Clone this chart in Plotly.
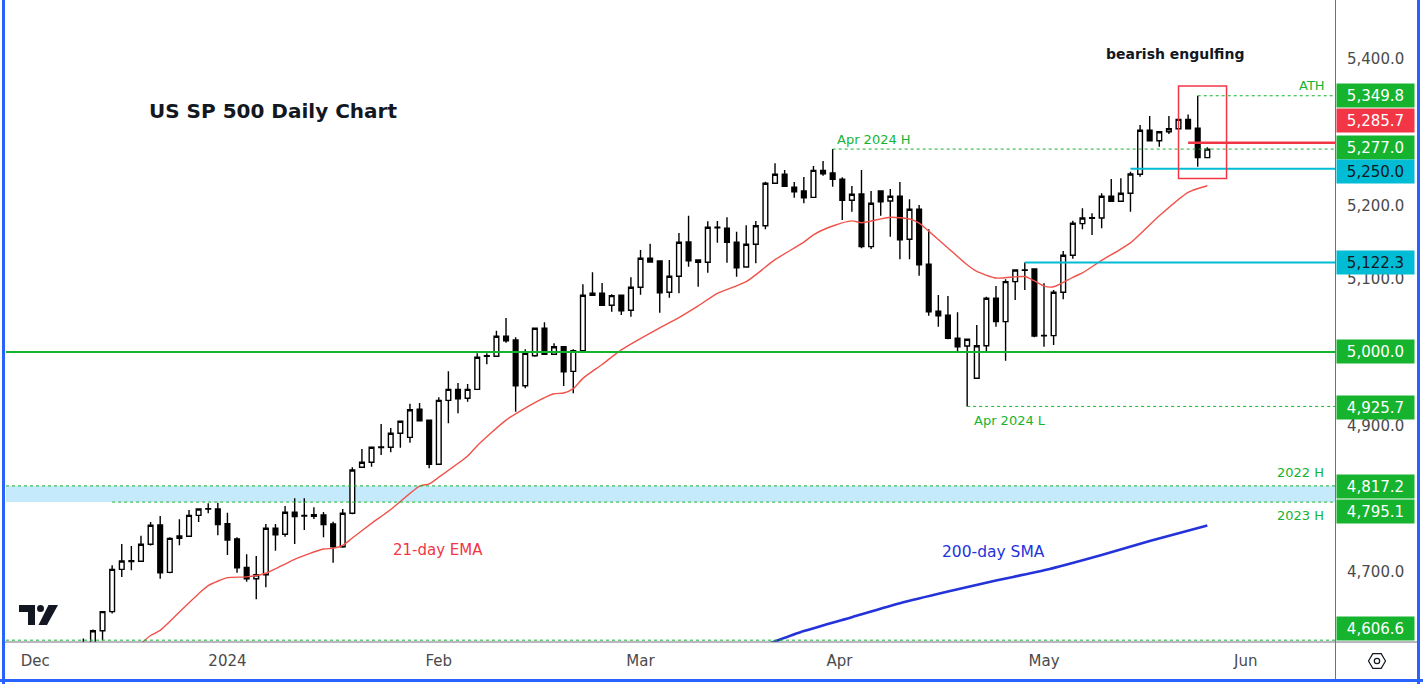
import plotly.graph_objects as go

# ---------------- data (daily bars, 8 Dec 2023 -> 24 May 2024) ----------------
opens = [4600, 4600, 4619.5, 4645.5, 4703.3, 4714, 4714.3, 4737.5, 4763.8, 4699.2,
         4745.6, 4748.4, 4777, 4785.5, 4785.7, 4765.6, 4744.7, 4706, 4690.5, 4696,
         4759.3, 4751.1, 4781.2, 4776, 4777.9, 4777.5, 4765.2, 4734.2, 4779.8, 4842.6,
         4849.4, 4869.5, 4869.9, 4889, 4883.5, 4921.8, 4906.8, 4846.7, 4934, 4949,
         4936.8, 4949, 4994, 4994.1, 5021.4, 5016.4, 4954, 4994.9, 5032.4, 4996.9,
         5007.2, 4973.6, 5001.8, 5077.4, 5080.2, 5063.8, 5077.4, 5056.9, 5088.3, 5127.9,
         5124.2, 5081.5, 5103.4, 5150.2, 5125.6, 5122.5, 5169.5, 5168.9, 5149.8, 5116,
         5147.1, 5172.4, 5230.3, 5242.6, 5224.8, 5219.8, 5211.1, 5247.9, 5244.4, 5235.8,
         5207.1, 5215.7, 5143.8, 5219.8, 5206.1, 5212.6, 5153.9, 5194.8, 5119.7, 5055.6,
         5050.1, 5018.7, 5008.2, 4964.1, 5008.6, 5073.3, 5041.4, 5096, 5111.5, 5113.3,
         5022, 5022.3, 5081.5, 5132, 5175.2, 5182.6, 5182.9, 5212.6, 5205.7, 5216.7,
         5242.6, 5302.7, 5288.4, 5300.7, 5304.8, 5317.6, 5305.4, 5265.3]
highs = [4609, 4621, 4646, 4709, 4738, 4735, 4749, 4768, 4776, 4747,
         4771.6, 4784.3, 4785.7, 4793.4, 4794.2, 4780.6, 4747, 4724, 4721.5, 4765.2,
         4765.2, 4789.8, 4800.3, 4800.3, 4788, 4781.6, 4768.3, 4785.7, 4842.6, 4867.6,
         4869.9, 4901.7, 4896.2, 4905.4, 4929.4, 4930.4, 4906.8, 4938.2, 4973.6, 4957.7,
         4956.3, 4998.2, 4998.2, 5029.1, 5046.4, 5020, 5003.7, 5032.4, 5040.5, 5011.9,
         5007.2, 5003.7, 5092.4, 5108.8, 5094.2, 5078.8, 5077.4, 5102, 5139.2, 5147.9,
         5124.2, 5125.6, 5162.5, 5186.1, 5125.6, 5178.4, 5178.8, 5183.9, 5164.2, 5173,
         5178.8, 5232.5, 5257.6, 5248.5, 5232, 5238.9, 5253.9, 5260.8, 5277.0, 5238.5,
         5226.6, 5248.5, 5219.8, 5219.8, 5222.5, 5232, 5208.5, 5200.7, 5167.5, 5077.8,
         5076.5, 5054.2, 5017.3, 5036.9, 5075.5, 5090.1, 5099.2, 5111.9, 5122.3, 5113.3,
         5093.8, 5084.6, 5137.9, 5179.2, 5196.2, 5189.4, 5216.7, 5236.2, 5237.1, 5246.1,
         5309.9, 5322.2, 5300.7, 5322.2, 5317.6, 5324.3, 5349.8, 5279.5]
lows = [4574, 4594, 4606, 4643, 4693, 4702, 4714, 4736, 4690.5, 4698,
        4736.2, 4748, 4768, 4779.8, 4749.8, 4722.9, 4698.7, 4686.4, 4662.4, 4678.8,
        4728.7, 4747.9, 4737.9, 4757, 4772, 4747, 4712.4, 4732.8, 4778.4, 4842.6,
        4843.4, 4859.4, 4863, 4869.4, 4876.2, 4906.2, 4841.2, 4846.7, 4902.7, 4916.3,
        4932.2, 4949, 4983.2, 4994.1, 5012.7, 4918.5, 4950.4, 4993.6, 4996.9, 4996.9,
        4953.6, 4943.6, 5001.8, 5077.4, 5063.8, 5055, 5050.5, 5048.2, 5078.2, 5122.9,
        5053.6, 5074.1, 5080.2, 5116.5, 5089.1, 5108.3, 5149.2, 5121.9, 5102.8, 5116,
        5121.1, 5167.5, 5230.3, 5226.2, 5210.6, 5203, 5211.1, 5240.6, 5225.7, 5180.2,
        5191.5, 5141.6, 5140.6, 5186.1, 5157.4, 5126.6, 5126.6, 5104.2, 5049.5, 5034.5,
        5017.3, 4999, 4925.7, 4964.1, 5000.4, 5034.5, 4988.1, 5071, 5084.6, 5020.1,
        5007.2, 5009.6, 5071.9, 5127.4, 5167.5, 5159.7, 5168.9, 5205.7, 5205.7, 5191.5,
        5239.3, 5288.4, 5280.2, 5297.6, 5304.8, 5304.8, 5253, 5265.3]
closes = [4601, 4619.5, 4645.5, 4703.3, 4714.7, 4715, 4737.5, 4763.4, 4698.7, 4745.6,
          4748.8, 4777, 4785.7, 4786, 4764.3, 4743.3, 4705.5, 4690.5, 4696, 4759.3,
          4750.6, 4781.2, 4775.2, 4777, 4775.7, 4764.3, 4734.2, 4779.8, 4839, 4849.4,
          4869.9, 4870.3, 4889, 4905.4, 4921.2, 4906.2, 4846.7, 4934, 4949, 4936.2,
          4949, 4992.8, 4995, 5021.4, 5015.4, 4954, 4998.2, 5032.4, 4996.9, 5007.2,
          4973.1, 5001.8, 5077.4, 5080.2, 5063.8, 5076.9, 5056.4, 5088.3, 5127.9, 5122.9,
          5080.9, 5103.4, 5149.8, 5124.6, 5122.5, 5170.2, 5170.2, 5149.8, 5115.1, 5147.1,
          5172.4, 5230.3, 5242.6, 5226.2, 5218.8, 5210.6, 5247.9, 5243.3, 5235.8, 5207.1,
          5215.3, 5143.8, 5203, 5205.2, 5212.6, 5153.3, 5194.8, 5119.2, 5055, 5049.5,
          5018.7, 5007.2, 5017.3, 5008.6, 5073.3, 5041.4, 5096, 5111.9, 5112, 5021.8,
          5022.6, 5081.5, 5132, 5175.7, 5182.9, 5183.2, 5212.6, 5205.7, 5216.7, 5243,
          5302.7, 5288.4, 5300.7, 5304.8, 5317.6, 5304.8, 5265.3, 5277.0]
bars = list(range(len(opens)))

# 21-day EMA (at bar positions)
ema_bars = [5, 7, 8, 10, 12, 13, 15, 17, 19, 20, 22, 25, 26, 27, 28, 30, 32, 35, 36, 37,
            40, 41, 44, 47, 49, 50, 51, 52, 54, 56, 60, 62, 64, 66, 69, 72, 75, 76, 78, 80,
            81, 84, 86, 87, 88, 90, 92, 93, 95, 98, 99, 100, 101, 103, 104, 106, 109, 112, 115, 117]
ema_vals = [4590, 4613, 4620, 4645, 4670, 4681, 4692, 4693, 4698, 4704, 4717, 4731, 4732, 4736, 4746,
            4766, 4785, 4817, 4820, 4829, 4858, 4872, 4907, 4931, 4943, 4944, 4950, 4964, 4983, 5003,
            5033, 5047, 5063, 5080, 5096, 5126, 5150, 5160, 5172, 5179, 5176.5, 5184, 5181.5, 5176, 5165,
            5142, 5119, 5110, 5101, 5103, 5097, 5090, 5089, 5102, 5108, 5125, 5149, 5186, 5218, 5227]

# 200-day SMA
sma_bars = [71, 75, 80, 85, 90, 95, 100, 106, 111, 117]
sma_vals = [4600, 4619, 4638, 4657, 4673, 4688, 4702, 4723, 4742, 4763]

month_ticks = [-5, 15, 37, 58, 78.7, 100, 121]
month_labels = ["Dec", "2024", "Feb", "Mar", "Apr", "May", "Jun"]
price_ticks = [4700, 4900, 5100, 5200, 5400]

lvl_5000 = 5000.0
lvl_2022h = 4817.2
lvl_2023h = 4795.1
lvl_apr_h = 5277.0
lvl_apr_l = 4925.7
lvl_ath = 5349.8
lvl_sup = 5250.0
lvl_res = 5122.3
lvl_red = 5285.7
lvl_low = 4606.6

# ---------------- layout geometry ----------------
W, H = 1423, 684
L, R, T, B = 6, 88, 8, 42
XR = [-8.05, 130.29]
YR = [4604.1, 5469.6]
PW, PH = W - L - R, H - T - B
FONT = "DejaVu Sans"


def px2x(px):
    return XR[0] + (px - L) / PW * (XR[1] - XR[0])


def py2y(py):
    return YR[1] - (py - T) / PH * (YR[1] - YR[0])


def ppx(px):  # pixel -> paper x
    return (px - L) / PW


def ppy(py):  # pixel -> paper y
    return (H - B - py) / PH


GREEN = "#16b32f"
RED = "#f23645"
CYAN = "#00bcd4"
BLUE = "#2433d9"

fig = go.Figure()

fig.add_trace(go.Candlestick(
    x=bars, open=opens, high=highs, low=lows, close=closes,
    increasing=dict(line=dict(color="#000000", width=1.4), fillcolor="#ffffff"),
    decreasing=dict(line=dict(color="#000000", width=1.4), fillcolor="#000000"),
    whiskerwidth=0, showlegend=False, hoverinfo="skip"))

fig.add_trace(go.Scatter(x=ema_bars, y=ema_vals, mode="lines",
                         line=dict(color="#f0524a", width=1.4, shape="spline", smoothing=0.6),
                         showlegend=False, hoverinfo="skip"))
fig.add_trace(go.Scatter(x=sma_bars, y=sma_vals, mode="lines",
                         line=dict(color=BLUE, width=2.6, shape="spline", smoothing=0.6),
                         showlegend=False, hoverinfo="skip"))

shapes = []
# 2022/2023 high zone
shapes.append(dict(type="rect", xref="paper", x0=0, x1=1, yref="y", y0=lvl_2023h, y1=lvl_2022h,
                   fillcolor="#c4eafc", line=dict(width=0), layer="below"))
shapes.append(dict(type="line", xref="paper", x0=0, x1=1, yref="y", y0=lvl_2022h, y1=lvl_2022h,
                   line=dict(color=GREEN, width=1, dash="dot")))
shapes.append(dict(type="line", xref="x", x0=3, x1=XR[1], yref="y", y0=lvl_2023h, y1=lvl_2023h,
                   line=dict(color=GREEN, width=1, dash="dot")))
shapes.append(dict(type="line", xref="paper", x0=0, x1=1, yref="y", y0=lvl_low, y1=lvl_low,
                   line=dict(color=GREEN, width=1, dash="dot")))
# 5000 level
shapes.append(dict(type="line", xref="paper", x0=0, x1=1, yref="y", y0=lvl_5000, y1=lvl_5000,
                   line=dict(color=GREEN, width=2)))
# dotted highs / lows
shapes.append(dict(type="line", xref="x", x0=78, x1=XR[1], yref="y", y0=lvl_apr_h, y1=lvl_apr_h,
                   line=dict(color=GREEN, width=1, dash="dot")))
shapes.append(dict(type="line", xref="x", x0=92, x1=XR[1], yref="y", y0=lvl_apr_l, y1=lvl_apr_l,
                   line=dict(color=GREEN, width=1, dash="dot")))
shapes.append(dict(type="line", xref="x", x0=116, x1=XR[1], yref="y", y0=lvl_ath, y1=lvl_ath,
                   line=dict(color=GREEN, width=1, dash="dot")))
# cyan levels
shapes.append(dict(type="line", xref="x", x0=109, x1=XR[1], yref="y", y0=lvl_sup, y1=lvl_sup,
                   line=dict(color=CYAN, width=2)))
shapes.append(dict(type="line", xref="x", x0=98, x1=XR[1], yref="y", y0=lvl_res, y1=lvl_res,
                   line=dict(color=CYAN, width=2)))
# red level
shapes.append(dict(type="line", xref="x", x0=115, x1=XR[1], yref="y", y0=lvl_red, y1=lvl_red,
                   line=dict(color=RED, width=2.5)))
# bearish engulfing box
shapes.append(dict(type="rect", xref="x", x0=114, x1=119, yref="y", y0=5237, y1=5363,
                   line=dict(color=RED, width=1.5), fillcolor="rgba(0,0,0,0)"))

# separators and frame
shapes.append(dict(type="line", xref="paper", yref="paper", x0=ppx(1335.5), x1=ppx(1335.5),
                   y0=ppy(0), y1=ppy(680), line=dict(color="#6f727c", width=1)))
shapes.append(dict(type="line", xref="paper", yref="paper", x0=ppx(5), x1=ppx(1418),
                   y0=ppy(642), y1=ppy(642), line=dict(color="#6f727c", width=1)))
for (a, b, c, d) in [(3.5, 0, 3.5, 684), (0, 680.5, 1423, 680.5), (1418.5, 0, 1418.5, 684)]:
    shapes.append(dict(type="line", xref="paper", yref="paper", x0=ppx(a), x1=ppx(c),
                       y0=ppy(b), y1=ppy(d), line=dict(color="#2962ff", width=3)))


def path(points):
    s = "M " + " L ".join(f"{ppx(x):.5f} {ppy(y):.5f}" for x, y in points) + " Z"
    return s


# TradingView-like logo
shapes.append(dict(type="path", xref="paper", yref="paper",
                   path=path([(19, 605), (35, 605), (35, 625), (28, 625), (28, 612), (19, 612)]),
                   fillcolor="#131722", line=dict(width=0)))
shapes.append(dict(type="circle", xref="paper", yref="paper", x0=ppx(37), x1=ppx(44),
                   y0=ppy(612), y1=ppy(605), fillcolor="#131722", line=dict(width=0)))
shapes.append(dict(type="path", xref="paper", yref="paper",
                   path=path([(48.5, 605), (58, 605), (47, 625), (38.5, 625)]),
                   fillcolor="#131722", line=dict(width=0)))
# settings icon
hexpts = [(1385.5, 661), (1381.2, 653.6), (1372.8, 653.6), (1368.5, 661), (1372.8, 668.4), (1381.2, 668.4)]
shapes.append(dict(type="path", xref="paper", yref="paper", path=path(hexpts),
                   line=dict(color="#131722", width=1.2), fillcolor="rgba(0,0,0,0)"))
shapes.append(dict(type="circle", xref="paper", yref="paper", x0=ppx(1374.3), x1=ppx(1379.7),
                   y0=ppy(663.7), y1=ppy(658.3), line=dict(color="#131722", width=1.2)))

annotations = []


def txt(text, px, py, size, color, anchor="left", bold=False):
    annotations.append(dict(text=(f"<b>{text}</b>" if bold else text), x=px2x(px), y=py2y(py),
                            xref="x", yref="y", showarrow=False, xanchor=anchor, yanchor="middle",
                            font=dict(size=size, color=color, family=FONT)))


txt("US SP 500 Daily Chart", 147, 111, 20, "#131722", bold=True)
txt("bearish engulfing", 1104, 54, 14, "#131722", bold=True)
txt("ATH", 1327, 85, 13, GREEN, anchor="right")
txt("Apr 2024 H", 835, 139, 13, GREEN)
txt("Apr 2024 L", 972, 420, 13, GREEN)
txt("2022 H", 1326, 472, 13, GREEN, anchor="right")
txt("2023 H", 1326, 515, 13, GREEN, anchor="right")
txt("21-day EMA", 391, 550, 15, RED)
txt("200-day SMA", 940, 552, 15.5, BLUE)

# right-axis price labels
price_labels = [
    (lvl_ath, GREEN, "#ffffff", 0),
    (lvl_red, RED, "#ffffff", 22),
    (lvl_apr_h, GREEN, "#ffffff", 2),
    (lvl_sup, CYAN, "#131722", -3),
    (lvl_res, CYAN, "#131722", 0),
    (lvl_5000, GREEN, "#ffffff", 0),
    (lvl_apr_l, GREEN, "#ffffff", -1),
    (lvl_2022h, GREEN, "#ffffff", -1),
    (lvl_2023h, GREEN, "#ffffff", -9),
    (lvl_low, GREEN, "#ffffff", 12),
]
for val, bg, fc, ys in price_labels:
    annotations.append(dict(text=f"{val:,.1f}", x=ppx(1336), xref="paper", y=val, yref="y",
                            xanchor="left", yanchor="middle", yshift=ys, showarrow=False,
                            bgcolor=bg, width=73, height=19, borderpad=2, align="center",
                            font=dict(size=15, color=fc, family=FONT)))

fig.update_layout(
    width=W, height=H, margin=dict(l=L, r=R, t=T, b=B),
    paper_bgcolor="#ffffff", plot_bgcolor="#ffffff",
    shapes=shapes, annotations=annotations, showlegend=False,
    xaxis=dict(range=XR, tickmode="array", tickvals=month_ticks, ticktext=month_labels,
               showgrid=False, zeroline=False, showline=False, ticks="",
               tickfont=dict(size=15, color="#4a4a4a", family=FONT),
               rangeslider=dict(visible=False), fixedrange=True, ticklabelstandoff=8),
    yaxis=dict(range=YR, side="right", tickmode="array", tickvals=price_ticks,
               tickformat=",.1f", showgrid=False, zeroline=False, showline=False, ticks="",
               tickfont=dict(size=15, color="#4a4a4a", family=FONT),
               ticklabelstandoff=11, fixedrange=True),
)

fig.write_html("out.html", config={"displayModeBar": False},
               post_script="document.body.style.margin='0';document.body.style.padding='0';")
